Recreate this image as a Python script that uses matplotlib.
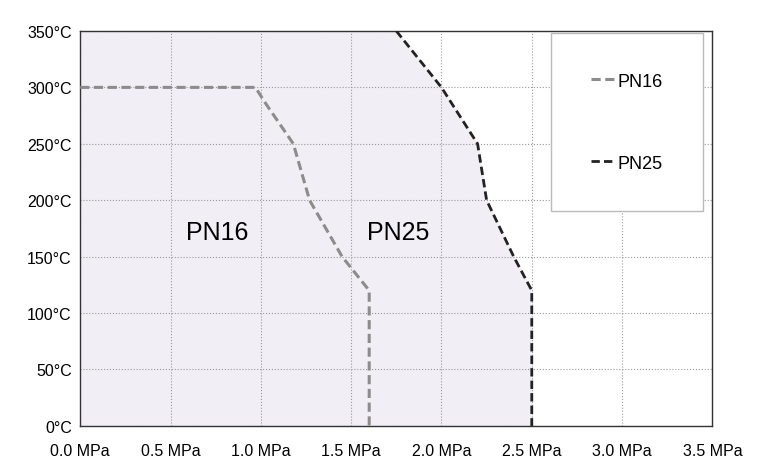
import matplotlib.pyplot as plt

pn16_p = [0.0, 0.97, 1.03, 1.18, 1.27, 1.45, 1.6, 1.6]
pn16_t = [300, 300, 285, 250, 200, 150, 120, 0]
pn25_p = [1.75, 2.0, 2.1, 2.2, 2.25, 2.4, 2.5, 2.5]
pn25_t = [350, 300, 275, 250, 200, 150, 120, 0]
xticks = [0.0, 0.5, 1.0, 1.5, 2.0, 2.5, 3.0, 3.5]
yticks = [0, 50, 100, 150, 200, 250, 300, 350]

plt.rcParams['font.family'] = ['Liberation Sans', 'DejaVu Sans']
fig = plt.figure(figsize=(7.71, 4.77), dpi=100)
ax = fig.add_axes([0.104, 0.105, 0.82, 0.828])

# shaded area under PN25 curve
ax.fill_betweenx([350] + pn25_t, [0] + [0] * len(pn25_t), [pn25_p[0]] + pn25_p,
                 color='#f1eff5', zorder=0)
ax.plot(pn16_p, pn16_t, color='#8c8c8c', lw=2.2, ls=(0, (3, 1.5)), label='PN16', zorder=3)
ax.plot(pn25_p, pn25_t, color='#222222', lw=2.0, ls=(0, (3, 1.5)), label='PN25', zorder=3)

ax.text(0.76, 172, 'PN16', fontsize=18, ha='center', va='center')
ax.text(1.76, 172, 'PN25', fontsize=18, ha='center', va='center')

ax.set_xlim(0, 3.5)
ax.set_ylim(0, 350)
ax.set_xticks(xticks)
ax.set_xticklabels([f'{v:.1f} MPa' for v in xticks], fontsize=11.5)
ax.set_yticks(yticks)
ax.set_yticklabels([f'{v}°C' for v in yticks], fontsize=11.5)
ax.grid(True, color='#999999', ls=':', lw=0.8, zorder=1)
ax.tick_params(axis='x', length=0, pad=12)
ax.tick_params(axis='y', length=0, pad=6)
for s in ax.spines.values():
    s.set_color('#333333')
    s.set_linewidth(1)

leg = ax.legend(loc='upper right', bbox_to_anchor=(0.985, 0.995), fontsize=13,
                handlelength=1.3, handletextpad=0.2, labelspacing=3.6,
                borderpad=2.2, borderaxespad=0, fancybox=False,
                edgecolor='#bbbbbb', framealpha=1)
fig.savefig('out.png')
